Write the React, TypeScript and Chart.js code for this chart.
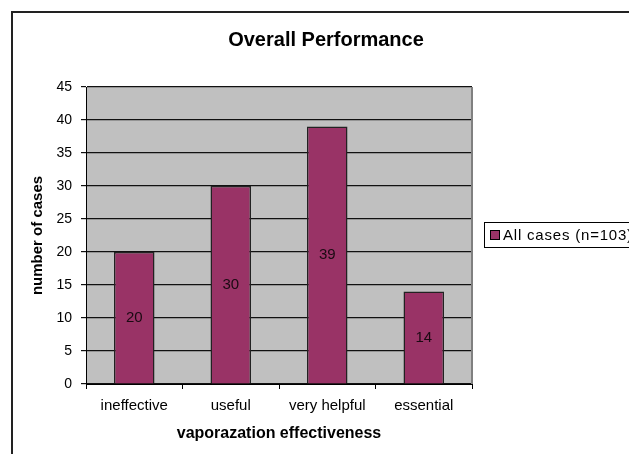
import React, { useEffect, useRef } from "react";
import { Chart, registerables } from "chart.js";

Chart.register(...registerables);

const categories = ["ineffective", "useful", "very helpful", "essential"];
const seriesName = "All cases (n=103)";
const seriesValues = [20, 30, 39, 14];
const chartTitle = "Overall Performance";
const xTitle = "vaporazation effectiveness";
const yTitle = "number of cases";
const yMin = 0;
const yMax = 45;
const yStep = 5;

const FONT = "'Liberation Sans', Arial, sans-serif";
const BAR = "#993366";

const decorPlugin = {
  id: "decor",
  beforeDraw(chart: any) {
    const { ctx, chartArea: a } = chart;
    ctx.save();
    ctx.fillStyle = "#ffffff";
    ctx.fillRect(0, 0, chart.width, chart.height);
    // outer frame
    ctx.strokeStyle = "#222";
    ctx.lineWidth = 2;
    ctx.beginPath();
    ctx.moveTo(12, chart.height + 2);
    ctx.lineTo(12, 12);
    ctx.lineTo(chart.width + 2, 12);
    ctx.stroke();
    // plot background
    ctx.fillStyle = "#C0C0C0";
    ctx.fillRect(a.left, a.top, a.right - a.left, a.bottom - a.top);
    ctx.restore();
  },
  beforeDatasetsDraw(chart: any) {
    const { ctx, chartArea: a } = chart;
    ctx.save();
    ctx.strokeStyle = "#808080";
    ctx.lineWidth = 2;
    ctx.beginPath();
    ctx.moveTo(a.right, a.top);
    ctx.lineTo(a.right, a.bottom);
    ctx.stroke();
    ctx.restore();
  },
  afterDatasetsDraw(chart: any) {
    const { ctx } = chart;
    const meta = chart.getDatasetMeta(0);
    ctx.save();
    ctx.fillStyle = "#1a0a12";
    ctx.font = `15px ${FONT}`;
    ctx.textAlign = "center";
    ctx.textBaseline = "middle";
    meta.data.forEach((el: any, i: number) => {
      const v = chart.data.datasets[0].data[i];
      ctx.fillText(String(v), el.x, (el.y + el.base) / 2);
    });
    ctx.restore();
  },
  afterDraw(chart: any) {
    const { ctx } = chart;
    ctx.save();
    // title
    ctx.fillStyle = "#000";
    ctx.font = `bold 20px ${FONT}`;
    ctx.textAlign = "center";
    ctx.textBaseline = "middle";
    ctx.fillText(chartTitle, 326, 40);
    // legend
    ctx.fillStyle = "#fff";
    ctx.fillRect(484, 222, 200, 25);
    ctx.strokeStyle = "#000";
    ctx.lineWidth = 1;
    ctx.strokeRect(484.5, 222.5, 200, 25);
    ctx.fillStyle = BAR;
    ctx.fillRect(490, 230, 9, 9);
    ctx.strokeRect(490.5, 230.5, 9, 9);
    ctx.fillStyle = "#000";
    ctx.font = `15px ${FONT}`;
    ctx.textAlign = "left";
    (ctx as any).letterSpacing = "0.8px";
    ctx.fillText(chart.data.datasets[0].label, 503, 236);
    ctx.restore();
  },
};

export default function App() {
  const ref = useRef<HTMLCanvasElement | null>(null);
  useEffect(() => {
    document.body.style.margin = "0";
    const canvas = ref.current!;
    const chart = new Chart(canvas, {
      type: "bar",
      data: {
        labels: categories,
        datasets: [
          {
            label: seriesName,
            data: seriesValues,
            backgroundColor: BAR,
            borderColor: "#222",
            borderWidth: 1.5,
            barPercentage: 0.42,
            categoryPercentage: 1,
          },
        ],
      },
      options: {
        responsive: false,
        animation: false,
        layout: { padding: { top: 87, right: 157, left: 0, bottom: 0 } },
        plugins: {
          legend: { display: false },
          title: { display: false },
          tooltip: { enabled: false },
        },
        scales: {
          x: {
            offset: true,
            grid: {
              display: true,
              drawOnChartArea: false,
              drawTicks: true,
              tickLength: 5,
              color: "#000",
              offset: true,
            },
            border: { display: true, color: "#000", width: 1 },
            ticks: { color: "#000", font: { family: FONT, size: 15 }, padding: 8, maxRotation: 0 },
            title: {
              display: true,
              text: xTitle,
              color: "#000",
              font: { family: FONT, size: 16, weight: "bold" },
              padding: { top: 0, bottom: 11 },
            },
            afterFit: (s: any) => {
              s.height = 70;
            },
          },
          y: {
            min: yMin,
            max: yMax,
            grid: { color: "#111", lineWidth: 1.2, tickLength: 5, drawTicks: true },
            border: { display: true, color: "#000", width: 1 },
            ticks: { stepSize: yStep, color: "#000", font: { family: FONT, size: 14 }, padding: 9 },
            title: {
              display: true,
              text: yTitle,
              color: "#000",
              font: { family: FONT, size: 15, weight: "bold" },
              padding: { top: 29, bottom: 0 },
            },
            afterFit: (s: any) => {
              s.width = 86;
            },
          },
        },
      },
      plugins: [decorPlugin],
    });
    return () => chart.destroy();
  }, []);
  return (
    <div style={{ width: 629, height: 454 }}>
      <canvas ref={ref} width={629} height={454} style={{ display: "block" }} />
    </div>
  );
}
